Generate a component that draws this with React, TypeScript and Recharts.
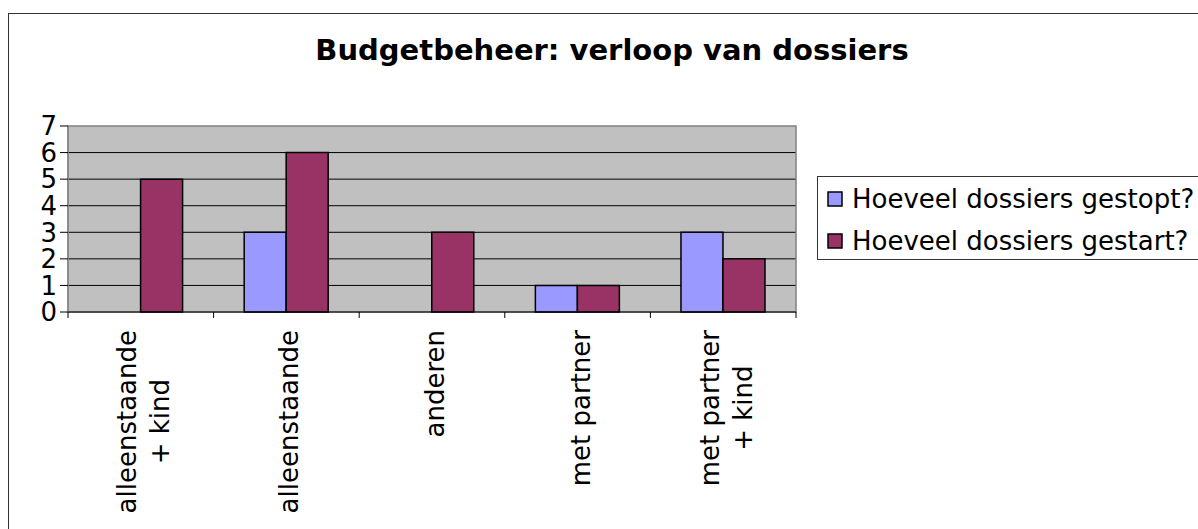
import React from 'react';
import { BarChart, Bar, XAxis, YAxis, CartesianGrid, ReferenceArea } from 'recharts';

// categories (line breaks as in the original wrapped labels)
const categories = ['alleenstaande\n+ kind', 'alleenstaande', 'anderen', 'met partner', 'met partner\n+ kind'];
const gestopt = [0, 3, 0, 1, 3];
const gestart = [5, 6, 3, 1, 2];
const seriesNames = ['Hoeveel dossiers gestopt?', 'Hoeveel dossiers gestart?'];
const seriesColors = ['#9999FF', '#993366'];
const yTicks = [0, 1, 2, 3, 4, 5, 6, 7];
const title = 'Budgetbeheer: verloop van dossiers';

const FONT = '"DejaVu Sans", Verdana, sans-serif';

const data = categories.map((c, i) => ({ cat: c, gestopt: gestopt[i], gestart: gestart[i] }));

let ctx: CanvasRenderingContext2D | null = null;
function textWidth(s: string) {
  if (!ctx) ctx = document.createElement('canvas').getContext('2d');
  if (!ctx) return s.length * 15;
  ctx.font = '26px "DejaVu Sans"';
  return ctx.measureText(s).width;
}

function CategoryTick(props: any) {
  const { x, y, payload, index } = props;
  const half = payload.offset || 0;
  const lines = String(payload.value).split('\n');
  const w = Math.max(...lines.map(textWidth));
  const lineGap = 33;
  const base = 12 - ((lines.length - 1) * lineGap) / 2;
  return (
    <g>
      <line x1={x - half} x2={x - half} y1={y - 6} y2={y} stroke="#000" />
      {index === categories.length - 1 && (
        <line x1={x + half} x2={x + half} y1={y - 6} y2={y} stroke="#000" />
      )}
      <g transform={`translate(${x},${y + 12}) rotate(-90)`}>
        {lines.map((l, i) => (
          <text key={i} x={-w / 2} y={base + i * lineGap} textAnchor="middle" fontSize={26} fontFamily={FONT} fill="#000">
            {l}
          </text>
        ))}
      </g>
    </g>
  );
}

export default function App() {
  return (
    <div style={{ position: 'relative', width: 1198, height: 529, overflow: 'hidden', background: '#fff' }}>
      <style>{'body{margin:0}'}</style>
      <div style={{ position: 'absolute', left: 8, top: 13, width: 1400, height: 700, border: '1px solid #333' }} />
      <div style={{ position: 'absolute', left: 0, top: 0 }}>
        <BarChart
          width={1198}
          height={529}
          data={data}
          margin={{ top: 126, right: 402, left: 8, bottom: 17 }}
          barCategoryGap="21%"
          barGap={0}
        >
          <CartesianGrid horizontal vertical={false} fill="#C0C0C0" stroke="#000" horizontalValues={[1, 2, 3, 4, 5, 6]} />
          <ReferenceArea y1={0} y2={7} fill="none" stroke="#808080" strokeWidth={1.5} />
          <XAxis
            dataKey="cat"
            height={200}
            tickSize={6}
            tickMargin={0}
            tickLine={false}
            axisLine={{ stroke: '#000' }}
            interval={0}
            tick={<CategoryTick />}
          />
          <YAxis
            width={60}
            domain={[0, 7]}
            ticks={yTicks}
            tickSize={8}
            tickMargin={3}
            interval={0}
            axisLine={{ stroke: '#808080' }}
            tickLine={{ stroke: '#000' }}
            tick={{ fontSize: 26, fontFamily: FONT, fill: '#000' }}
          />
          <Bar dataKey="gestopt" name={seriesNames[0]} fill={seriesColors[0]} stroke="#000" strokeWidth={1.5} isAnimationActive={false} />
          <Bar dataKey="gestart" name={seriesNames[1]} fill={seriesColors[1]} stroke="#000" strokeWidth={1.5} isAnimationActive={false} />
        </BarChart>
      </div>
      <svg width={1198} height={529} style={{ position: 'absolute', left: 0, top: 0, pointerEvents: 'none' }}>
        <text x={612} y={60} textAnchor="middle" fontSize={29} fontWeight="bold" fontFamily={FONT} fill="#000">
          {title}
        </text>
        <rect x={817.5} y={176.5} width={500} height={83} fill="#fff" stroke="#333" />
        {seriesNames.map((n, i) => (
          <g key={n}>
            <rect x={828} y={192 + i * 42} width={14} height={14} fill={seriesColors[i]} stroke="#000" strokeWidth={1.5} />
            <text x={852} y={208 + i * 42} fontSize={26} fontFamily={FONT} fill="#000">
              {n}
            </text>
          </g>
        ))}
      </svg>
    </div>
  );
}
